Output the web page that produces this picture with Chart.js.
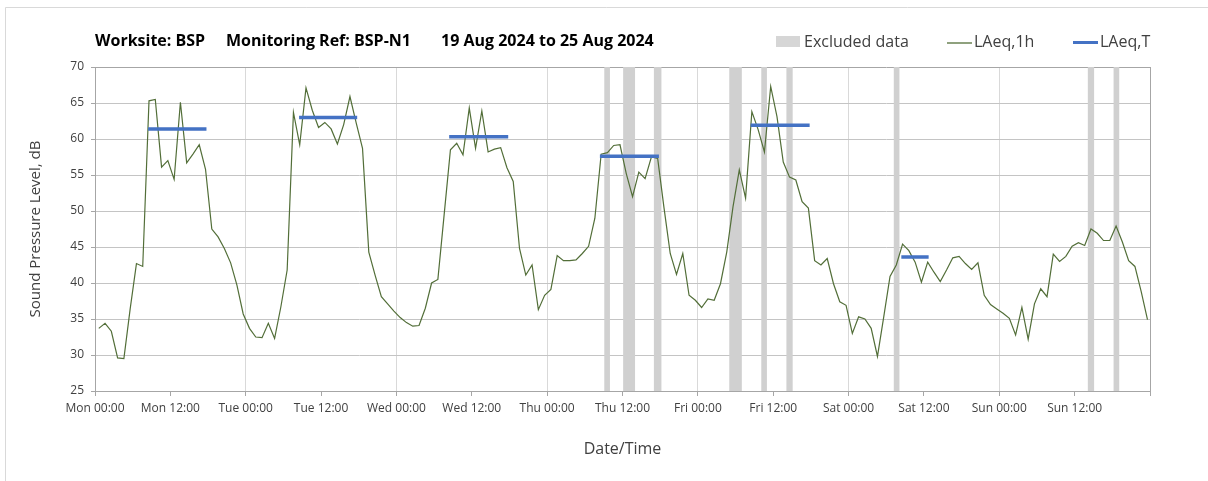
<!DOCTYPE html>
<html>
<head>
<meta charset="utf-8">
<title>BSP-N1 noise monitoring</title>
<script src="https://cdn.jsdelivr.net/npm/chart.js@4.4.1/dist/chart.umd.min.js"></script>
<style>
    html, body { margin: 0; padding: 0; background: #ffffff; }
    #chart { display: block; }
</style>
</head>
<body>
<canvas id="chart" width="1208" height="481"></canvas>
<script>
// Hourly readings, hours counted from Mon 00:00 (first reading just after midnight)
var firstReading = 0.6;

// LAeq,1h - one value per hour, Mon 00:00 to Sun 23:00
var laeq1h = [
    33.7, 34.4, 33.3, 29.6, 29.5, 36.4, 42.7, 42.3,
    65.3, 65.5, 56.1, 57.0, 54.4, 65.1, 56.7, 57.9, 59.2, 55.8,
    47.5, 46.4, 44.8, 42.8, 39.7, 35.7,
    33.7, 32.5, 32.4, 34.4, 32.3, 36.7, 41.8,
    63.7, 59.2, 67.1, 64.0, 61.6, 62.3, 61.4, 59.3, 62.0, 65.9, 62.2, 58.7,
    44.3, 41.1, 38.1, 37.1, 36.1, 35.2, 34.5, 34.0, 34.1, 36.5, 40.0, 40.5,
    49.5, 58.5, 59.4, 57.8, 64.3, 58.7, 63.9, 58.2, 58.6, 58.8, 56.0, 54.1,
    44.8, 41.1, 42.5, 36.3, 38.3, 39.1, 43.8, 43.1, 43.1, 43.2, 44.1, 45.1, 49.0,
    57.9, 58.1, 59.1, 59.2, 55.2, 52.0, 55.4, 54.5, 57.5, 57.3, 50.5,
    44.1, 41.2, 44.1, 38.3, 37.6, 36.6, 37.8, 37.6, 39.9, 44.3,
    50.6, 55.7, 51.8, 63.8, 61.3, 58.2, 67.3, 63.1, 56.8, 54.7, 54.3, 51.3, 50.4,
    43.1, 42.5, 43.4, 39.9, 37.4, 36.9, 33.0, 35.3, 35.0, 33.7, 29.8, 35.3, 40.9, 42.5,
    45.4, 44.5, 42.9, 40.1, 42.9, 41.5, 40.2, 41.8, 43.5, 43.7, 42.7, 41.9, 42.8,
    38.3, 37.0, 36.4, 35.8, 35.1, 32.8, 36.6, 32.2, 37.1, 39.2, 38.1, 44.0, 43.0,
    43.7, 45.1, 45.6, 45.2, 47.5, 46.9, 45.9, 45.9, 47.9, 45.7, 43.1, 42.3, 38.8, 34.9
];

// LAeq,T - period averages (start hour, end hour, level)
var periodStart = [8.45, 32.5, 56.4, 80.4, 104.4, 128.4];
var periodEnd   = [17.75, 41.75, 65.8, 89.8, 113.8, 132.75];
var periodLevel = [61.4, 63.0, 60.3, 57.6, 61.9, 43.6];

// Excluded data windows (hours from Mon 00:00)
var excludedStart = [81.1, 84.1, 89.0, 101.0, 106.1, 110.1, 127.2, 158.1, 162.2];
var excludedEnd   = [82.0, 86.0, 90.2, 103.0, 107.0, 111.1, 128.1, 159.1, 163.1];

var tickLabels = [
    'Mon 00:00', 'Mon 12:00', 'Tue 00:00', 'Tue 12:00', 'Wed 00:00', 'Wed 12:00', 'Thu 00:00',
    'Thu 12:00', 'Fri 00:00', 'Fri 12:00', 'Sat 00:00', 'Sat 12:00', 'Sun 00:00', 'Sun 12:00'
];

var titleParts = ['Worksite: BSP', 'Monitoring Ref: BSP-N1', '19 Aug 2024 to 25 Aug 2024'];

var greenLine = '#526e38';
var blueLine = '#4472c4';
var excludedGrey = '#d0d0d0';
var axisGrey = '#a6a6a6';
var textGrey = '#404040';

Chart.defaults.font.family = '"Open Sans", "Liberation Sans", sans-serif';
Chart.defaults.color = textGrey;

// build the point lists for the library
var hourlyPoints = laeq1h.map(function(v, i) {
    return { x: i + firstReading, y: v };
});

var periodPoints = [];
periodLevel.forEach(function(level, i) {
    if (i > 0) periodPoints.push({ x: (periodEnd[i - 1] + periodStart[i]) / 2, y: null });
    periodPoints.push({ x: periodStart[i], y: level });
    periodPoints.push({ x: periodEnd[i], y: level });
});

// Page frame, title and legend
var framePlugin = {
    id: 'frame',
    beforeDraw: function(chart) {
        var ctx = chart.ctx;
        ctx.save();
        ctx.fillStyle = '#ffffff';
        ctx.fillRect(0, 0, chart.width, chart.height);
        ctx.strokeStyle = '#d9d9d9';
        ctx.lineWidth = 1;
        ctx.beginPath();
        ctx.moveTo(5.5, chart.height);
        ctx.lineTo(5.5, 7.5);
        ctx.lineTo(chart.width, 7.5);
        ctx.stroke();
        ctx.restore();
    },
    afterDraw: function(chart) {
        var ctx = chart.ctx;
        ctx.save();
        ctx.textBaseline = 'middle';
        ctx.textAlign = 'left';

        // title
        ctx.fillStyle = '#000000';
        ctx.font = 'bold 16px "Open Sans", sans-serif';
        var titleX = [95, 226, 441];
        titleParts.forEach(function(t, i) {
            ctx.fillText(t, titleX[i], 41);
        });

        // legend
        ctx.font = '16px "Open Sans", sans-serif';
        ctx.fillStyle = '#d6d6d6';
        ctx.fillRect(776, 36, 24, 11);
        ctx.fillStyle = textGrey;
        ctx.fillText('Excluded data', 804, 42);

        ctx.strokeStyle = greenLine;
        ctx.lineWidth = 1.3;
        ctx.beginPath();
        ctx.moveTo(947, 43);
        ctx.lineTo(972, 43);
        ctx.stroke();
        ctx.fillText('LAeq,1h', 974, 42);

        ctx.strokeStyle = blueLine;
        ctx.lineWidth = 3;
        ctx.beginPath();
        ctx.moveTo(1073, 42.5);
        ctx.lineTo(1098, 42.5);
        ctx.stroke();
        ctx.fillText('LAeq,T', 1100, 42);
        ctx.restore();
    }
};

// Grey bands for excluded data
var excludedPlugin = {
    id: 'excluded',
    beforeDatasetsDraw: function(chart) {
        var ctx = chart.ctx;
        var x = chart.scales.x;
        var area = chart.chartArea;
        ctx.save();
        ctx.fillStyle = excludedGrey;
        for (var i = 0; i < excludedStart.length; i++) {
            var x1 = x.getPixelForValue(excludedStart[i]);
            var x2 = x.getPixelForValue(excludedEnd[i]);
            ctx.fillRect(x1, area.top, x2 - x1, area.bottom - area.top);
        }
        ctx.restore();
    }
};

var chart = new Chart(document.getElementById('chart').getContext('2d'), {
    type: 'line',
    data: {
        datasets: [{
            label: 'LAeq,T',
            data: periodPoints,
            borderColor: blueLine,
            borderWidth: 3.5,
            pointRadius: 0,
            spanGaps: false,
            order: 0
        }, {
            label: 'LAeq,1h',
            data: hourlyPoints,
            borderColor: greenLine,
            borderWidth: 1.2,
            pointRadius: 0,
            tension: 0,
            order: 1
        }]
    },
    options: {
        responsive: false,
        animation: false,
        layout: {
            padding: { top: 67, right: 58, left: 0, bottom: 0 }
        },
        plugins: {
            legend: { display: false },
            tooltip: { enabled: false }
        },
        scales: {
            x: {
                type: 'linear',
                min: 0,
                max: 168,
                afterFit: function(scale) { scale.height = 90; },
                border: { display: true, color: axisGrey, width: 1 },
                grid: {
                    color: function(c) {
                        if (c.tick.value === 168) return axisGrey;
                        return c.tick.value % 24 === 0 ? '#d9d9d9' : 'rgba(0,0,0,0)';
                    },
                    tickColor: axisGrey,
                    tickLength: 5,
                    lineWidth: 1
                },
                ticks: {
                    stepSize: 12,
                    autoSkip: false,
                    maxRotation: 0,
                    padding: 5,
                    font: { size: 12 },
                    color: textGrey,
                    callback: function(value, index) {
                        return tickLabels[index] || '';
                    }
                },
                title: {
                    display: true,
                    text: 'Date/Time',
                    font: { size: 16 },
                    color: textGrey,
                    padding: { top: 0, bottom: 22 }
                }
            },
            y: {
                min: 25,
                max: 70,
                afterFit: function(scale) { scale.width = 95; },
                border: { display: true, color: axisGrey, width: 1 },
                grid: {
                    color: function(c) {
                        return c.tick.value === 70 ? axisGrey : '#c4c4c4';
                    },
                    tickColor: axisGrey,
                    tickLength: 4,
                    lineWidth: 1
                },
                ticks: {
                    stepSize: 5,
                    padding: 7,
                    font: { size: 12 },
                    color: textGrey
                },
                title: {
                    display: true,
                    text: 'Sound Pressure Level, dB',
                    font: { size: 15 },
                    color: textGrey,
                    padding: { top: 27, bottom: 0 }
                }
            }
        }
    },
    plugins: [framePlugin, excludedPlugin]
});
</script>
</body>
</html>
